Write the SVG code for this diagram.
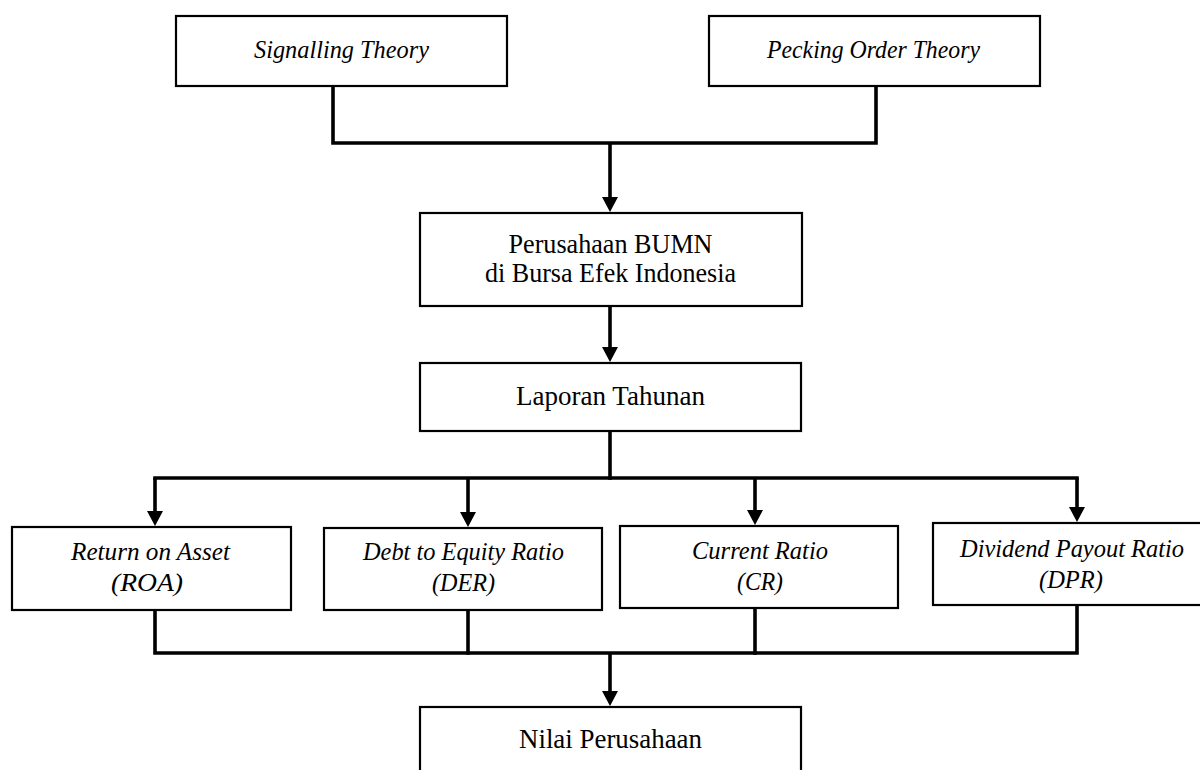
<svg xmlns="http://www.w3.org/2000/svg" width="1200" height="770" viewBox="0 0 1200 770">
<style>
  .box { fill: #ffffff; stroke: #000000; stroke-width: 2.2; }
  .conn { fill: none; stroke: #000000; stroke-width: 3.6; stroke-linejoin: miter; stroke-linecap: square; }
  .arr { fill: none; stroke: #000000; stroke-width: 3.6; stroke-linecap: butt; marker-end: url(#ah); }
  .it { font-family: "Liberation Serif", "Times New Roman", serif; font-style: italic; font-size: 25px; fill: #000000; text-anchor: middle; }
  .up { font-family: "Liberation Serif", "Times New Roman", serif; font-size: 27px; fill: #000000; text-anchor: middle; }
</style>
<defs>
  <marker id="ah" markerUnits="userSpaceOnUse" viewBox="0 0 15 16" markerWidth="15" markerHeight="16" refX="5" refY="8" orient="auto">
    <path d="M0,0 L15,8 L0,16 Z" fill="#000000"/>
  </marker>
</defs>
<rect width="1200" height="770" fill="#ffffff"/>

<g id="connectors">
  <path class="conn" d="M333,87 V143 H876 V87"/>
  <path class="arr" d="M610,143 V202"/>
  <path class="arr" d="M610,307 V352"/>
  <path class="conn" d="M610,432 V478"/>
  <path class="conn" d="M155,478 H1077"/>
  <path class="arr" d="M155,478 V516"/>
  <path class="arr" d="M468,478 V517"/>
  <path class="arr" d="M755,478 V515"/>
  <path class="arr" d="M1077,478 V512"/>
  <path class="conn" d="M155,611 V653 H1077 V607"/>
  <path class="conn" d="M468,611 V653"/>
  <path class="conn" d="M755,609 V653"/>
  <path class="arr" d="M610,653 V696"/>
</g>

<g id="node-signalling">
  <rect class="box" x="176" y="16" width="331" height="70"/>
  <text class="it" x="341.5" y="58" textLength="175" lengthAdjust="spacingAndGlyphs">Signalling Theory</text>
</g>
<g id="node-pecking">
  <rect class="box" x="709" y="16" width="331" height="70"/>
  <text class="it" x="873.5" y="58" textLength="213" lengthAdjust="spacingAndGlyphs">Pecking Order Theory</text>
</g>
<g id="node-bumn">
  <rect class="box" x="420" y="213" width="382" height="93"/>
  <text class="up" x="610.5" y="253" textLength="204" lengthAdjust="spacingAndGlyphs">Perusahaan BUMN</text>
  <text class="up" x="610.5" y="282" textLength="251" lengthAdjust="spacingAndGlyphs">di Bursa Efek Indonesia</text>
</g>
<g id="node-laporan">
  <rect class="box" x="420" y="363" width="381" height="68"/>
  <text class="up" x="610.5" y="405" textLength="189" lengthAdjust="spacingAndGlyphs">Laporan Tahunan</text>
</g>
<g id="node-roa">
  <rect class="box" x="12" y="527" width="279" height="83"/>
  <text class="it" x="150.5" y="560" textLength="159" lengthAdjust="spacingAndGlyphs">Return on Asset</text>
  <text class="it" x="147" y="591" textLength="72" lengthAdjust="spacingAndGlyphs">(ROA)</text>
</g>
<g id="node-der">
  <rect class="box" x="324" y="528" width="278" height="82"/>
  <text class="it" x="463.5" y="560" textLength="201" lengthAdjust="spacingAndGlyphs">Debt to Equity Ratio</text>
  <text class="it" x="463.5" y="591" textLength="63" lengthAdjust="spacingAndGlyphs">(DER)</text>
</g>
<g id="node-cr">
  <rect class="box" x="620" y="526" width="278" height="82"/>
  <text class="it" x="760" y="559" textLength="136" lengthAdjust="spacingAndGlyphs">Current Ratio</text>
  <text class="it" x="760" y="590" textLength="46" lengthAdjust="spacingAndGlyphs">(CR)</text>
</g>
<g id="node-dpr">
  <rect class="box" x="933" y="523" width="278" height="82"/>
  <text class="it" x="1072" y="557" textLength="224" lengthAdjust="spacingAndGlyphs">Dividend Payout Ratio</text>
  <text class="it" x="1071" y="588" textLength="64" lengthAdjust="spacingAndGlyphs">(DPR)</text>
</g>
<g id="node-nilai">
  <rect class="box" x="420" y="707" width="381" height="80"/>
  <text class="up" x="610.5" y="748" textLength="183" lengthAdjust="spacingAndGlyphs">Nilai Perusahaan</text>
</g>
</svg>
